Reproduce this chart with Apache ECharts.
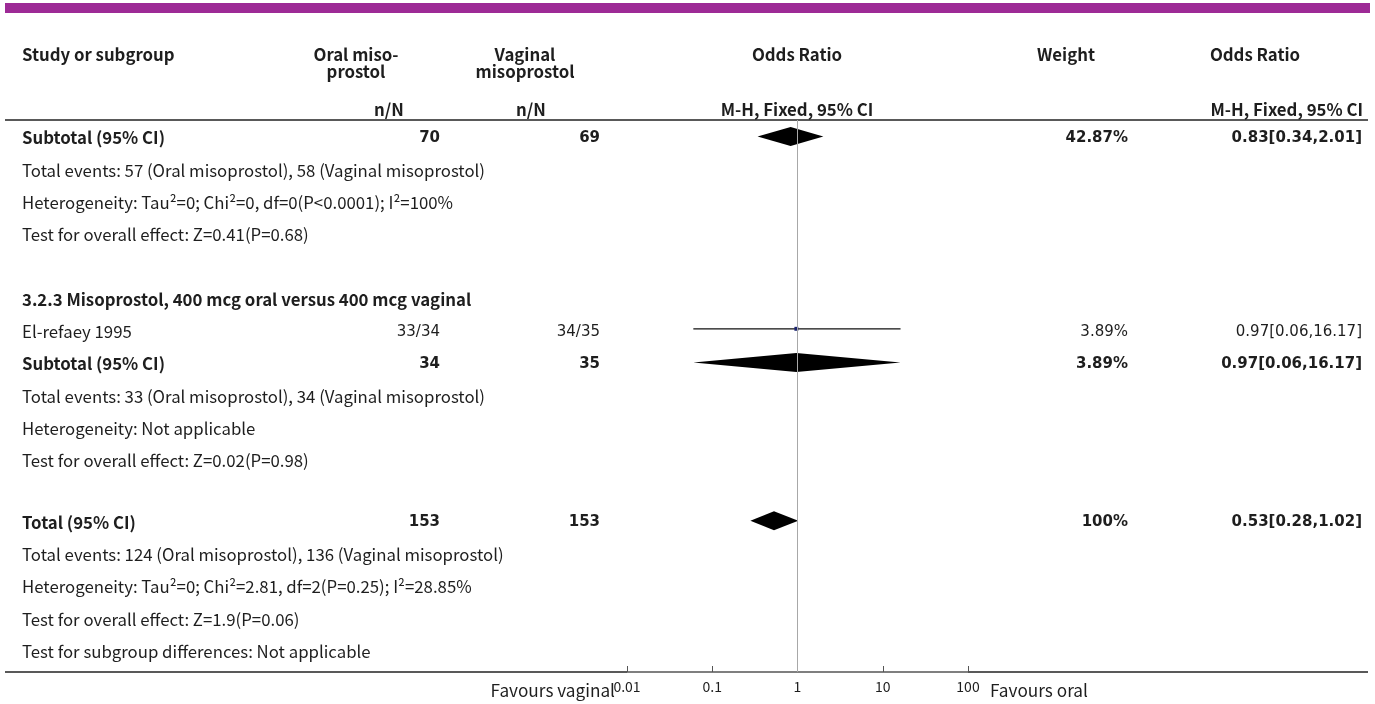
<!DOCTYPE html>
<html>
<head>
<meta charset="utf-8">
<script src="https://cdn.jsdelivr.net/npm/echarts@6/dist/echarts.min.js"></script>
<style>
  html, body { margin: 0; padding: 0; background: #fff; }
  #chart { width: 1375px; height: 704px; }
</style>
</head>
<body>
<div id="chart"></div>
<script>
// ---- table rows (blank strings are spacer rows) ----
const rowLabels = [
  'Subtotal (95% CI)',
  'Total events: 57 (Oral misoprostol), 58 (Vaginal misoprostol)',
  'Heterogeneity: Tau\u00b2=0; Chi\u00b2=0, df=0(P<0.0001); I\u00b2=100%',
  'Test for overall effect: Z=0.41(P=0.68)',
  '',
  '3.2.3 Misoprostol, 400 mcg oral versus 400 mcg vaginal',
  'El-refaey 1995',
  'Subtotal (95% CI)',
  'Total events: 33 (Oral misoprostol), 34 (Vaginal misoprostol)',
  'Heterogeneity: Not applicable',
  'Test for overall effect: Z=0.02(P=0.98)',
  '',
  'Total (95% CI)',
  'Total events: 124 (Oral misoprostol), 136 (Vaginal misoprostol)',
  'Heterogeneity: Tau\u00b2=0; Chi\u00b2=2.81, df=2(P=0.25); I\u00b2=28.85%',
  'Test for overall effect: Z=1.9(P=0.06)',
  'Test for subgroup differences: Not applicable'
];
const boldRows = [0, 5, 7, 12];

// ---- individual studies ----
const studyRows = [6];
const studyOralEvents = [33];
const studyOralTotal = [34];
const studyVagEvents = [34];
const studyVagTotal = [35];
const studyOR = [0.97];
const studyLow = [0.06];
const studyHigh = [16.17];
const studyWeight = [3.89];

// ---- pooled estimates (subtotals and total) ----
const pooledRows = [0, 7, 12];
const pooledOralTotal = [70, 34, 153];
const pooledVagTotal = [69, 35, 153];
const pooledOR = [0.83, 0.97, 0.53];
const pooledLow = [0.34, 0.06, 0.28];
const pooledHigh = [2.01, 16.17, 1.02];
const pooledWeight = [42.87, 3.89, 100];

// ---- axis ----
const tickLabels = ['0.01', '0.1', '1', '10', '100'];
const axisMin = 0.01, axisMax = 100;

// ---- layout ----
const labelFont = '"Noto Sans CJK SC", "Noto Sans", sans-serif';
const numFont = '"DejaVu Sans", Verdana, sans-serif';
const textColor = '#1e1e1e';
const labelSize = 16.8;
const numSize = 15;
const colStudyX = 22, colOralRight = 440, colVagRight = 600, colWeightRight = 1128, colORRight = 1362;
const plotLeft = 627, plotRight = 968, headerLineY = 120, axisLineY = 672;
const rowPitch = 32.3, firstRowY = 138;
// the spacer before the overall total is a little shorter than the first one
function slotOf(i) { return i > 11 ? i - 0.1 : i; }

const orText = (o, l, h) => o + '[' + l + ',' + h + ']';

// per-row right-hand cells
const oralCol = rowLabels.map(() => '');
const vagCol = rowLabels.map(() => '');
const weightCol = rowLabels.map(() => '');
const orCol = rowLabels.map(() => '');
studyRows.forEach((r, k) => {
  oralCol[r] = studyOralEvents[k] + '/' + studyOralTotal[k];
  vagCol[r] = studyVagEvents[k] + '/' + studyVagTotal[k];
  weightCol[r] = studyWeight[k] + '%';
  orCol[r] = orText(studyOR[k], studyLow[k], studyHigh[k]);
});
pooledRows.forEach((r, k) => {
  oralCol[r] = String(pooledOralTotal[k]);
  vagCol[r] = String(pooledVagTotal[k]);
  weightCol[r] = pooledWeight[k] + '%';
  orCol[r] = orText(pooledOR[k], pooledLow[k], pooledHigh[k]);
});

const chart = echarts.init(document.getElementById('chart'), null, { renderer: 'canvas' });

function txt(text, x, y, align, bold, font, size) {
  return {
    type: 'text',
    style: {
      text: text, x: x, y: y, align: align, verticalAlign: 'middle',
      fill: textColor, fontFamily: font || labelFont,
      fontSize: size || labelSize, fontWeight: bold ? 'bold' : 'normal'
    }
  };
}

const headerGraphics = [
  { type: 'rect', shape: { x: 5, y: 3, width: 1365, height: 10 }, style: { fill: '#9d2a96' } },
  txt('Study or subgroup', colStudyX, 55, 'left', true),
  txt('Oral miso-', 356, 55, 'center', true),
  txt('prostol', 356, 72, 'center', true),
  txt('n/N', 389, 110, 'center', true),
  txt('Vaginal', 525, 55, 'center', true),
  txt('misoprostol', 525, 72, 'center', true),
  txt('n/N', 531, 110, 'center', true),
  txt('Odds Ratio', 797, 55, 'center', true),
  txt('M-H, Fixed, 95% CI', 797, 110, 'center', true),
  txt('Weight', 1066, 55, 'center', true),
  txt('Odds Ratio', 1255, 55, 'center', true),
  txt('M-H, Fixed, 95% CI', 1363, 110, 'right', true),
  { type: 'line', shape: { x1: 5, y1: headerLineY, x2: 1368, y2: headerLineY }, style: { stroke: '#222', lineWidth: 1.5 } },
  { type: 'line', shape: { x1: 5, y1: axisLineY, x2: plotLeft, y2: axisLineY }, style: { stroke: '#222', lineWidth: 1.5 } },
  { type: 'line', shape: { x1: plotRight, y1: axisLineY, x2: 1368, y2: axisLineY }, style: { stroke: '#222', lineWidth: 1.5 } },
  txt('Favours vaginal', 615, 690, 'right', false, labelFont, 17.2),
  txt('Favours oral', 990, 690, 'left', false, labelFont, 17.2)
];

const option = {
  animation: false,
  backgroundColor: '#fff',
  graphic: headerGraphics,
  grid: { left: plotLeft, right: 1375 - plotRight, top: headerLineY, bottom: 704 - axisLineY, containLabel: false },
  xAxis: {
    type: 'log', logBase: 10, min: axisMin, max: axisMax, splitNumber: 4,
    axisLine: { show: true, onZero: false, lineStyle: { color: '#555', width: 1.5 } },
    axisTick: { show: true, inside: true, length: 6, lineStyle: { color: '#555' } },
    splitLine: { show: false },
    axisLabel: {
      margin: 8, fontSize: 14, fontFamily: labelFont, color: textColor,
      formatter: v => tickLabels[Math.round(Math.log10(v)) + 2] || ''
    }
  },
  yAxis: {
    type: 'value', inverse: true, show: false,
    min: (headerLineY - firstRowY) / rowPitch,
    max: (axisLineY - firstRowY) / rowPitch
  },
  series: [
    {
      // text cells of every row, plus the line of no effect
      type: 'custom', z: 1,
      data: rowLabels.map((t, i) => [1, slotOf(i), i]),
      renderItem: (params, api) => {
        const i = api.value(2);
        const y = api.coord([1, api.value(1)])[1];
        const bold = boldRows.indexOf(i) >= 0;
        const children = [];
        if (rowLabels[i]) children.push(txt(rowLabels[i], colStudyX, y, 'left', bold));
        if (oralCol[i]) children.push(txt(oralCol[i], colOralRight, y, 'right', bold, numFont, numSize));
        if (vagCol[i]) children.push(txt(vagCol[i], colVagRight, y, 'right', bold, numFont, numSize));
        if (weightCol[i]) children.push(txt(weightCol[i], colWeightRight, y, 'right', bold, numFont, numSize));
        if (orCol[i]) children.push(txt(orCol[i], colORRight, y, 'right', bold, numFont, numSize));
        return { type: 'group', children: children };
      },
      markLine: {
        silent: true, symbol: 'none', label: { show: false },
        lineStyle: { color: '#a8a8a8', width: 1, type: 'solid' },
        data: [{ xAxis: 1 }]
      }
    },
    {
      // study estimate: confidence interval and weighted box
      type: 'custom', z: 3,
      data: studyRows.map((r, k) => [studyOR[k], studyLow[k], studyHigh[k], slotOf(r), studyWeight[k]]),
      renderItem: (params, api) => {
        const s = api.value(3);
        const pLo = api.coord([api.value(1), s]);
        const pHi = api.coord([api.value(2), s]);
        const pM = api.coord([api.value(0), s]);
        const side = Math.max(3, 2 * Math.sqrt(api.value(4)));
        return {
          type: 'group',
          children: [
            { type: 'line', shape: { x1: pLo[0], y1: pLo[1] - 3, x2: pHi[0], y2: pHi[1] - 3 }, style: { stroke: '#111', lineWidth: 1.3 } },
            { type: 'rect', shape: { x: pM[0] - side / 2, y: pM[1] - 3 - side / 2, width: side, height: side }, style: { fill: '#1b2470' } }
          ]
        };
      }
    },
    {
      // pooled estimates drawn as diamonds
      type: 'custom', z: 3,
      data: pooledRows.map((r, k) => [pooledOR[k], pooledLow[k], pooledHigh[k], slotOf(r)]),
      renderItem: (params, api) => {
        const s = api.value(3);
        const pLo = api.coord([api.value(1), s]);
        const pHi = api.coord([api.value(2), s]);
        const pM = api.coord([api.value(0), s]);
        const h = 9.5, yc = pM[1] - 1.5;
        return {
          type: 'polygon',
          shape: { points: [[pLo[0], yc], [pM[0], yc - h], [pHi[0], yc], [pM[0], yc + h]] },
          style: { fill: '#000' }
        };
      }
    }
  ]
};

chart.setOption(option);
</script>
</body>
</html>
